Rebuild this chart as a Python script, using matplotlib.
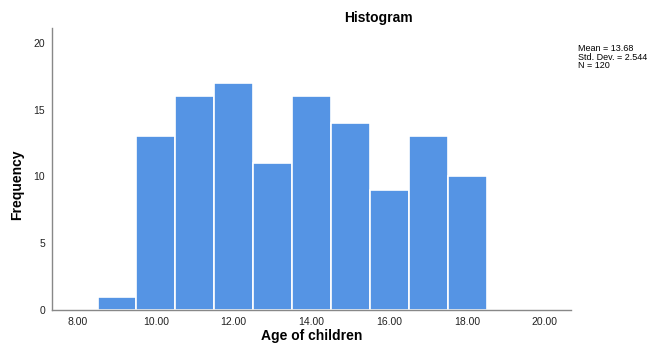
import matplotlib
matplotlib.use("Agg")
import matplotlib.pyplot as plt

bin_centers = [9, 10, 11, 12, 13, 14, 15, 16, 17, 18]
counts = [1, 13, 16, 17, 11, 16, 14, 9, 13, 10]
xticks = [8, 10, 12, 14, 16, 18, 20]
yticks = [0, 5, 10, 15, 20]
stats_text = "Mean = 13.68\nStd. Dev. = 2.544\nN = 120"

plt.rcParams['font.family'] = ['Liberation Sans', 'DejaVu Sans']
fig = plt.figure(figsize=(6.56, 3.43), dpi=100)
ax = fig.add_axes([52/656, 1-310/343, (571-52)/656, (310-28)/343])
ax.bar(bin_centers, counts, width=1.0, color='#5594E4', edgecolor='white', linewidth=1.2, align='center')
ax.set_xlim(7.33, 20.67)
ax.set_ylim(0, 21.1)
ax.set_xticks(xticks)
ax.set_xticklabels([f"{v:.2f}" for v in xticks])
ax.set_yticks(yticks)
ax.tick_params(axis='both', length=0, labelsize=7.5, colors='#222222', pad=5)
for s in ['top', 'right']:
    ax.spines[s].set_visible(False)
for s in ['left', 'bottom']:
    ax.spines[s].set_color('#888888')
    ax.spines[s].set_linewidth(1.0)
fig.text(312/656, 1-336/343, "Age of children", ha='center', va='center', fontsize=10, fontweight='bold')
fig.text(17/656, 1-185/343, "Frequency", ha='center', va='center', rotation=90, fontsize=10, fontweight='bold')
fig.text(378/656, 1-18/343, "Histogram", ha='center', va='center', fontsize=10, fontweight='bold')
fig.text(578/656, 1-44/343, stats_text, ha='left', va='top', fontsize=6.5, linespacing=0.95)
fig.savefig("out.png", dpi=100)
